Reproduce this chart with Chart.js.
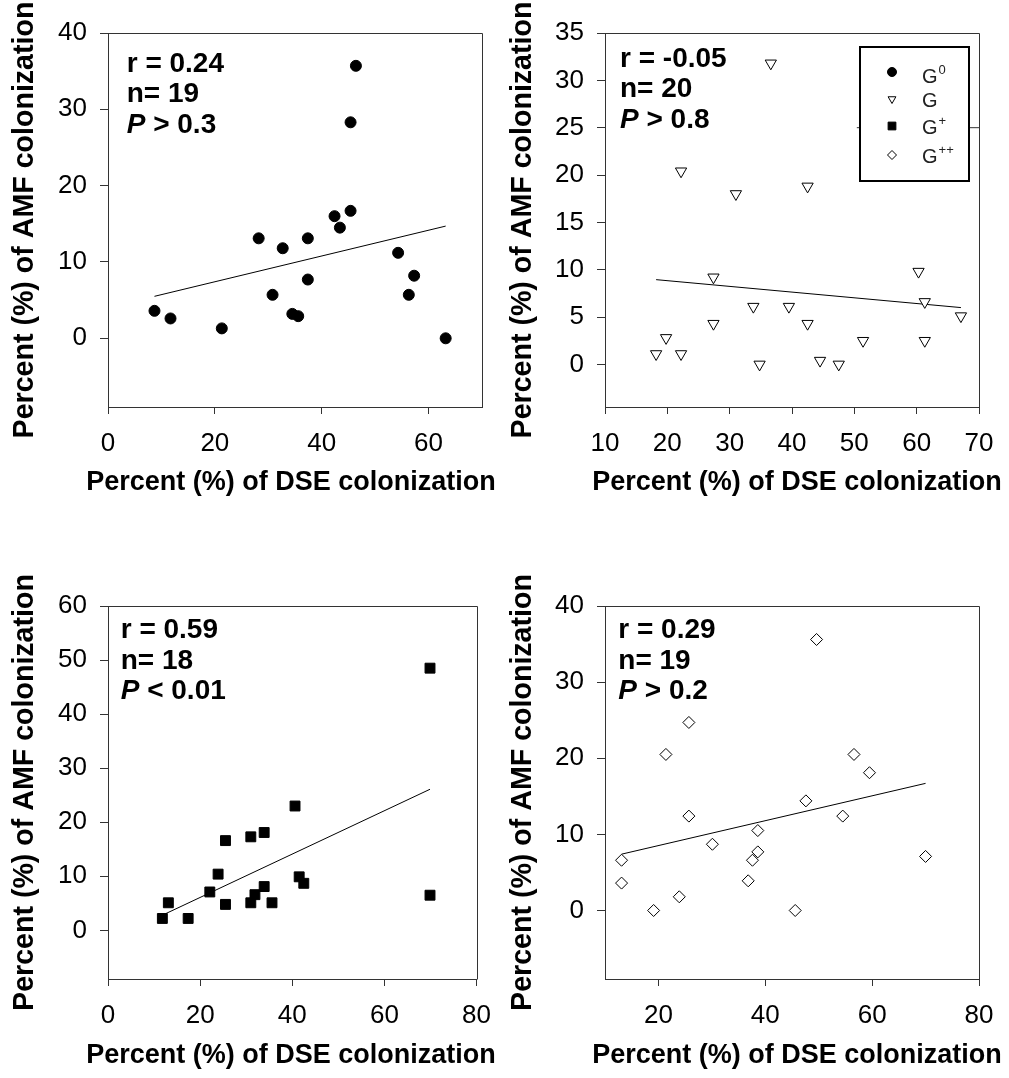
<!DOCTYPE html>
<html>
<head>
<meta charset="utf-8">
<script src="https://cdn.jsdelivr.net/npm/chart.js@4.4.1/dist/chart.umd.min.js"></script>
<style>
  html, body { margin: 0; padding: 0; background: #fff; }
  #page { position: relative; width: 1009px; height: 1078px; }
  .panel { position: absolute; }
</style>
</head>
<body>
<div id="page"></div>
<script>
// ---- data: DSE (x) vs AMF (y) colonization, one set per group ----

// G0
const g0Dse = [8.7, 11.7, 21.3, 28.2, 30.8, 32.7, 34.5, 35.6, 37.4, 37.4, 42.4, 43.4, 45.4, 45.4, 46.4, 54.3, 57.3, 56.3, 63.2];
const g0Amf = [3.6, 2.6, 1.3, 13.1, 5.7, 11.8, 3.2, 2.9, 13.1, 7.7, 16.0, 14.5, 16.7, 28.3, 35.7, 11.2, 8.2, 5.7, 0.0];
const g0FitX = [8.7, 63.2];
const g0FitY = [5.5, 14.7];
const g0Stats = ["r = 0.24", "n= 19", "P > 0.3"];

// G
const gDse = [18.2, 19.8, 22.2, 22.2, 27.4, 27.4, 31.0, 33.8, 34.8, 36.6, 39.5, 42.5, 42.5, 44.5, 47.5, 51.4, 60.3, 61.3, 61.3, 67.1];
const gAmf = [1.1, 2.8, 1.1, 20.4, 9.2, 4.3, 18.0, 6.1, 0.0, 31.8, 6.1, 18.8, 4.3, 0.4, 0.0, 2.5, 9.8, 6.6, 2.5, 5.1];
const gFitX = [18.2, 67.1];
const gFitY = [8.95, 6.0];
const gStats = ["r = -0.05", "n= 20", "P > 0.8"];
// short rule behind the key box
const gRuleX = [50.4, 70];
const gRuleY = [25, 25];

// G+
const gpDse = [11.8, 13.1, 17.4, 22.1, 23.9, 25.5, 25.5, 31.0, 31.0, 31.9, 33.9, 33.9, 35.6, 40.6, 41.5, 42.5, 69.9, 69.9];
const gpAmf = [2.2, 5.1, 2.2, 7.1, 10.4, 16.6, 4.8, 17.3, 5.1, 6.6, 18.1, 8.1, 5.1, 23.0, 9.9, 8.7, 48.5, 6.5];
const gpFitX = [11.8, 69.9];
const gpFitY = [2.8, 26.1];
const gpStats = ["r = 0.59", "n= 18", "P < 0.01"];

// G++
const gppDse = [13.1, 13.1, 19.1, 21.4, 23.9, 25.7, 25.7, 30.1, 36.8, 37.6, 38.6, 38.6, 45.6, 47.6, 49.6, 54.5, 56.6, 59.5, 70.0];
const gppAmf = [6.6, 3.6, 0.0, 20.5, 1.8, 24.7, 12.4, 8.7, 3.9, 6.6, 7.7, 10.5, 0.0, 14.4, 35.6, 12.4, 20.5, 18.1, 7.1];
const gppFitX = [13.1, 70.0];
const gppFitY = [7.4, 16.7];
const gppStats = ["r = 0.29", "n= 19", "P > 0.2"];

// axis ticks
const xTicksG0 = [0, 20, 40, 60];
const xTicksG = [10, 20, 30, 40, 50, 60, 70];
const xTicksGp = [0, 20, 40, 60, 80];
const xTicksGpp = [20, 40, 60, 80];
const yTicksG0 = [0, 10, 20, 30, 40];
const yTicksG = [0, 5, 10, 15, 20, 25, 30, 35];
const yTicksGp = [0, 10, 20, 30, 40, 50, 60];
const yTicksGpp = [0, 10, 20, 30, 40];

// key entries
const keyStyles = ["circle", "triangle", "rect", "rectRot"];
const keyFills = ["#000", "#fff", "#000", "#fff"];
const keySup = ["0", "", "+", "++"];

const xTitle = "Percent (%) of DSE colonization";
const yTitle = "Percent (%) of AMF colonization";

// ---- look ----
const FONT = '"Liberation Sans", Arial, Helvetica, sans-serif';
const AXIS_COLOR = "#333";
const TICK_SIZE = 26;
const X_TITLE_SIZE = 27;
const Y_TITLE_SIZE = 28.6;
const STAT_SIZE = 28;
const STAT_GAP = 30.5;
const X_AXIS_H = 90;

Chart.defaults.font.family = FONT;
Chart.defaults.color = "#000";

const toPoints = (xs, ys) => xs.map((x, i) => ({ x: x, y: ys[i] }));

function buildPanel(p) {
  const page = document.getElementById("page");
  const holder = document.createElement("div");
  holder.className = "panel";
  holder.style.left = p.box.left + "px";
  holder.style.top = p.box.top + "px";
  holder.style.width = p.box.width + "px";
  holder.style.height = p.box.height + "px";
  const canvas = document.createElement("canvas");
  holder.appendChild(canvas);
  page.appendChild(holder);

  const yAxisW = p.area.left - p.box.left;

  // top and right edges of the plot frame
  const frame = {
    id: "frame",
    beforeDatasetsDraw(chart) {
      const { ctx, chartArea: a } = chart;
      const l = Math.round(a.left) + 0.5, t = Math.round(a.top) + 0.5;
      const r = Math.round(a.right) + 0.5, b = Math.round(a.bottom) + 0.5;
      ctx.save();
      ctx.strokeStyle = AXIS_COLOR;
      ctx.lineWidth = 1;
      ctx.beginPath();
      ctx.moveTo(l, t);
      ctx.lineTo(r, t);
      ctx.lineTo(r, b);
      ctx.stroke();
      ctx.restore();
    },
  };

  // axis titles, drawn at their natural width (wider than the plot)
  const titles = {
    id: "titles",
    afterDraw(chart) {
      const { ctx, chartArea: a } = chart;
      ctx.save();
      ctx.fillStyle = "#000";
      ctx.textAlign = "center";
      ctx.textBaseline = "middle";
      ctx.font = `bold ${X_TITLE_SIZE}px ${FONT}`;
      ctx.fillText(xTitle, p.xTitleX - p.box.left, p.xTitleY - p.box.top);
      ctx.translate(p.yTitleX - p.box.left, (a.top + a.bottom) / 2);
      ctx.rotate(-Math.PI / 2);
      ctx.font = `bold ${Y_TITLE_SIZE}px ${FONT}`;
      ctx.fillText(yTitle, 0, 0);
      ctx.restore();
    },
  };

  // r / n / P block in the upper-left corner
  const stats = {
    id: "stats",
    afterDatasetsDraw(chart) {
      const { ctx, chartArea: a } = chart;
      ctx.save();
      ctx.fillStyle = "#000";
      ctx.textAlign = "left";
      ctx.textBaseline = "alphabetic";
      p.stats.forEach((line, i) => {
        let x = a.left + p.statAt.dx;
        const y = a.top + p.statAt.dy + i * STAT_GAP;
        if (line.startsWith("P ")) {
          ctx.font = `italic bold ${STAT_SIZE}px ${FONT}`;
          ctx.fillText("P", x, y);
          x += ctx.measureText("P").width;
          ctx.font = `bold ${STAT_SIZE}px ${FONT}`;
          ctx.fillText(line.slice(1), x, y);
        } else {
          ctx.font = `bold ${STAT_SIZE}px ${FONT}`;
          ctx.fillText(line, x, y);
        }
      });
      ctx.restore();
    },
  };

  // group key (only on one panel)
  const key = {
    id: "key",
    afterDatasetsDraw(chart) {
      if (!p.key) return;
      const { ctx, chartArea: a } = chart;
      const k = p.key;
      ctx.save();
      ctx.fillStyle = "#fff";
      ctx.fillRect(a.left + k.left, a.top + k.top, k.right - k.left, k.bottom - k.top);
      ctx.strokeStyle = "#000";
      ctx.lineWidth = 2;
      ctx.strokeRect(a.left + k.left, a.top + k.top, k.right - k.left, k.bottom - k.top);
      keyStyles.forEach((style, i) => {
        const my = a.top + k.markY[i];
        ctx.fillStyle = keyFills[i];
        ctx.strokeStyle = "#000";
        ctx.lineWidth = 1;
        Chart.helpers.drawPoint(ctx, {
          pointStyle: style,
          radius: style === "rect" ? 5.5 : 4.5,
          rotation: style === "triangle" ? 180 : 0,
          borderWidth: 1,
        }, a.left + k.markX, my);
        const tx = a.left + k.textX;
        const ty = a.top + k.textY[i];
        ctx.fillStyle = "#222";
        ctx.textBaseline = "alphabetic";
        ctx.textAlign = "left";
        ctx.font = `20px ${FONT}`;
        ctx.fillText("G", tx, ty);
        const gw = ctx.measureText("G").width;
        if (keySup[i]) {
          ctx.font = `13px ${FONT}`;
          ctx.fillText(keySup[i], tx + gw + 1, ty - 9);
        }
      });
      ctx.restore();
    },
  };

  const datasets = [
    {
      data: toPoints(p.xs, p.ys),
      pointStyle: p.marker.style,
      pointRadius: p.marker.radius,
      pointHoverRadius: p.marker.radius,
      pointRotation: p.marker.rotation || 0,
      pointBackgroundColor: p.marker.fill,
      pointBorderColor: "#000",
      pointBorderWidth: 1,
      clip: false,
    },
    {
      data: toPoints(p.fitX, p.fitY),
      showLine: true,
      borderColor: "#000",
      borderWidth: 1,
      pointRadius: 0,
      pointHoverRadius: 0,
      clip: false,
    },
  ];
  if (p.rule) {
    datasets.push({
      data: toPoints(p.rule.x, p.rule.y),
      showLine: true,
      borderColor: AXIS_COLOR,
      borderWidth: 1,
      pointRadius: 0,
      pointHoverRadius: 0,
      clip: false,
    });
  }

  return new Chart(canvas, {
    type: "scatter",
    data: { datasets: datasets },
    plugins: [frame, stats, key, titles],
    options: {
      responsive: true,
      maintainAspectRatio: false,
      animation: false,
      events: [],
      layout: {
        padding: {
          left: 0,
          top: p.area.top - p.box.top,
          right: p.box.left + p.box.width - p.area.right,
          bottom: p.box.top + p.box.height - p.area.bottom - X_AXIS_H,
        },
      },
      plugins: { legend: { display: false }, tooltip: { enabled: false } },
      scales: {
        x: {
          type: "linear",
          min: p.xRange[0],
          max: p.xRange[1],
          afterBuildTicks: (s) => { s.ticks = p.xTicks.map((v) => ({ value: v })); },
          afterFit: (s) => { s.height = X_AXIS_H; },
          grid: { drawOnChartArea: false, drawTicks: true, tickLength: 7, color: AXIS_COLOR, lineWidth: 1 },
          border: { display: true, color: AXIS_COLOR, width: 1 },
          ticks: { autoSkip: false, maxRotation: 0, padding: 14, color: "#000", font: { size: TICK_SIZE } },
          title: { display: false },
        },
        y: {
          type: "linear",
          min: p.yRange[0],
          max: p.yRange[1],
          afterBuildTicks: (s) => { s.ticks = p.yTicks.map((v) => ({ value: v })); },
          afterFit: (s) => { s.width = yAxisW; },
          grid: { drawOnChartArea: false, drawTicks: true, tickLength: 8, color: AXIS_COLOR, lineWidth: 1 },
          border: { display: true, color: AXIS_COLOR, width: 1 },
          ticks: { padding: 13, color: "#000", font: { size: TICK_SIZE } },
          title: { display: false },
        },
      },
    },
  });
}

// G0 - filled circles
buildPanel({
  box: { left: 0, top: 0, width: 505, height: 540 },
  area: { left: 108, right: 482, top: 33, bottom: 407 },
  xRange: [0, 70], yRange: [-9, 40],
  xTicks: xTicksG0, yTicks: yTicksG0,
  yTitleX: 25, xTitleX: 291, xTitleY: 483,
  xs: g0Dse, ys: g0Amf, fitX: g0FitX, fitY: g0FitY,
  marker: { style: "circle", radius: 5.5, fill: "#000" },
  stats: g0Stats, statAt: { dx: 18.7, dy: 38.5 },
});

// G - open down triangles, with the group key
buildPanel({
  box: { left: 505, top: 0, width: 504, height: 540 },
  area: { left: 605, right: 979, top: 33, bottom: 407 },
  xRange: [10, 70], yRange: [-4.5, 35],
  xTicks: xTicksG, yTicks: yTicksG,
  yTitleX: 523, xTitleX: 797, xTitleY: 483,
  xs: gDse, ys: gAmf, fitX: gFitX, fitY: gFitY,
  marker: { style: "triangle", radius: 6.5, rotation: 180, fill: "#fff" },
  stats: gStats, statAt: { dx: 15, dy: 33.5 },
  rule: { x: gRuleX, y: gRuleY },
  key: {
    left: 255, right: 364, top: 14, bottom: 148,
    markX: 287, markY: [39, 66, 93, 122],
    textX: 317, textY: [50, 74, 101, 130],
  },
});

// G+ - filled squares
buildPanel({
  box: { left: 0, top: 540, width: 505, height: 538 },
  area: { left: 108, right: 482, top: 606, bottom: 979 },
  xRange: [0, 80], yRange: [-9, 60],
  xTicks: xTicksGp, yTicks: yTicksGp,
  yTitleX: 25, xTitleX: 291, xTitleY: 1056,
  xs: gpDse, ys: gpAmf, fitX: gpFitX, fitY: gpFitY,
  marker: { style: "rect", radius: 7, fill: "#000" },
  stats: gpStats, statAt: { dx: 12.7, dy: 32.3 },
});

// G++ - open diamonds
buildPanel({
  box: { left: 505, top: 540, width: 504, height: 538 },
  area: { left: 605, right: 979, top: 606, bottom: 979 },
  xRange: [10, 80], yRange: [-9, 40],
  xTicks: xTicksGpp, yTicks: yTicksGpp,
  yTitleX: 523, xTitleX: 797, xTitleY: 1056,
  xs: gppDse, ys: gppAmf, fitX: gppFitX, fitY: gppFitY,
  marker: { style: "rectRot", radius: 6, fill: "#fff" },
  stats: gppStats, statAt: { dx: 13.3, dy: 32.3 },
});
</script>
</body>
</html>
